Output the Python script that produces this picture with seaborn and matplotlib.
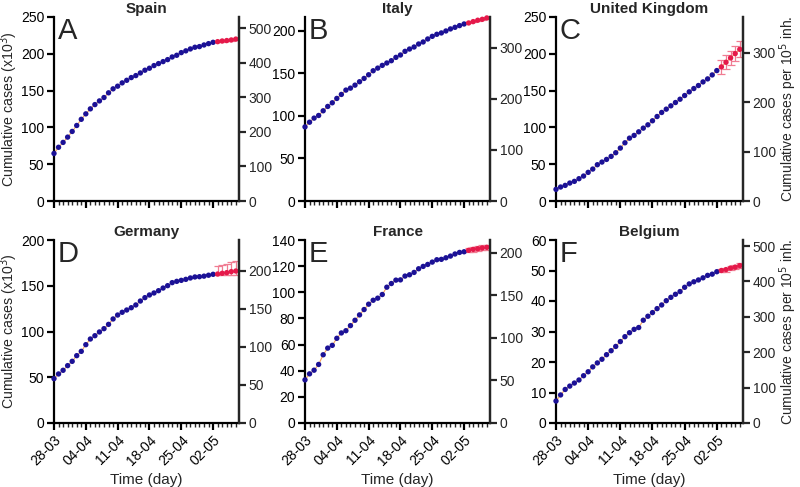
import numpy as np
import pandas as pd
import matplotlib
matplotlib.use("Agg")
import matplotlib.pyplot as plt
import seaborn as sns

sns.set_style("ticks")
plt.rcParams['font.family'] = ['Liberation Sans', 'DejaVu Sans']

# ---------------- data ----------------
tick_days = [0, 7, 14, 21, 28, 35]
tick_labels = ['28-03', '04-04', '11-04', '18-04', '25-04', '02-05']
obs_days = list(range(0, 36))
pred_days = [36, 37, 38, 39, 40]

countries = ['Spain', 'Italy', 'United Kingdom', 'Germany', 'France', 'Belgium']
letters = ['A', 'B', 'C', 'D', 'E', 'F']

spain_obs = [64.6, 73.0, 79.6, 86.8, 94.5, 102.6, 111.0, 118.4, 125.2, 131.0, 136.0, 140.6,
             147.0, 152.4, 156.0, 160.5, 164.0, 167.7, 170.4, 174.0, 177.7, 180.4, 184.0, 186.7,
             189.4, 192.1, 195.7, 198.0, 201.6, 204.0, 206.6, 208.9, 209.8, 212.0, 213.8, 215.6]
spain_pred = [216.5, 217.4, 218.0, 218.8, 220.0]
spain_err_lo = [1.0, 1.0, 1.2, 1.3, 1.5]
spain_err_hi = [1.0, 1.0, 1.2, 1.3, 1.5]

italy_obs = [87.0, 92.5, 97.3, 100.4, 105.9, 111.0, 115.3, 120.4, 125.1, 130.2, 132.5, 136.0,
             140.0, 143.9, 148.2, 152.9, 156.0, 159.2, 162.0, 164.7, 168.6, 171.4, 175.7, 178.4,
             180.8, 184.3, 186.7, 190.2, 193.3, 195.7, 197.3, 199.6, 202.0, 203.9, 205.9, 207.8]
italy_pred = [209.0, 210.6, 212.2, 213.3, 214.9]
italy_err_lo = [0.6, 0.7, 0.8, 0.9, 1.0]
italy_err_hi = [0.6, 0.7, 0.8, 0.9, 1.0]

uk_obs = [15.8, 19.0, 21.2, 24.4, 26.7, 30.3, 33.9, 38.9, 43.4, 49.3, 52.9, 56.5,
          60.6, 65.6, 71.9, 79.1, 85.4, 89.1, 94.0, 99.0, 103.5, 109.0, 114.8, 120.3,
          124.8, 129.3, 133.8, 138.3, 143.3, 148.3, 152.8, 156.9, 161.8, 165.9, 171.3, 177.2]
uk_pred = [182.2, 188.5, 194.4, 200.3, 206.1]
uk_err_lo = [9.0, 9.5, 10.0, 10.5, 11.0]
uk_err_hi = [9.0, 9.5, 10.0, 10.5, 11.0]

germany_obs = [48.5, 53.6, 57.6, 62.7, 67.4, 73.6, 78.3, 85.6, 91.8, 95.4, 99.5, 103.1,
               107.8, 113.7, 118.0, 121.0, 123.5, 126.0, 129.0, 133.3, 137.0, 139.9, 142.1, 144.6,
               147.5, 150.1, 153.4, 154.8, 155.9, 157.0, 158.5, 159.6, 159.9, 160.5, 161.5, 162.5]
germany_pred = [162.8, 163.6, 164.3, 165.4, 166.1]
germany_err_lo = [1.0, 2.0, 2.8, 3.8, 4.5]
germany_err_hi = [9.0, 9.5, 10.0, 10.5, 11.0]

france_obs = [33.0, 37.6, 40.4, 44.8, 52.2, 57.3, 59.4, 64.8, 68.9, 70.6, 74.5, 78.6,
              82.7, 86.8, 90.9, 93.9, 95.5, 98.3, 103.9, 106.7, 109.3, 109.5, 112.4, 113.4,
              115.2, 118.0, 119.8, 121.3, 123.1, 124.9, 125.2, 126.4, 127.7, 129.3, 130.5, 131.0]
france_pred = [132.1, 132.8, 133.3, 133.9, 134.4]
france_err_lo = [1.6, 1.7, 1.8, 1.9, 2.0]
france_err_hi = [1.6, 1.7, 1.8, 1.9, 2.0]

belgium_obs = [7.2, 9.2, 11.0, 12.1, 13.1, 14.1, 15.5, 16.8, 18.4, 19.7, 20.9, 22.4,
               23.7, 25.1, 26.7, 28.3, 29.6, 30.7, 31.3, 33.7, 35.0, 36.2, 37.5, 38.7,
               40.1, 41.2, 42.2, 43.1, 44.5, 45.6, 46.3, 46.9, 47.6, 48.4, 48.8, 49.6]
belgium_pred = [50.0, 50.3, 50.8, 51.1, 51.6]
belgium_err_lo = [0.6, 0.65, 0.7, 0.75, 0.8]
belgium_err_hi = [0.6, 0.65, 0.7, 0.75, 0.8]

obs_values = [spain_obs, italy_obs, uk_obs, germany_obs, france_obs, belgium_obs]
pred_values = [spain_pred, italy_pred, uk_pred, germany_pred, france_pred, belgium_pred]
err_lo = [spain_err_lo, italy_err_lo, uk_err_lo, germany_err_lo, france_err_lo, belgium_err_lo]
err_hi = [spain_err_hi, italy_err_hi, uk_err_hi, germany_err_hi, france_err_hi, belgium_err_hi]

left_max = [250, 216, 250, 200, 140, 60]
left_step = [50, 50, 50, 50, 20, 10]
per_1e5_factor = [2.132, 1.667, 1.49, 1.20, 1.536, 8.62]
right_ticks = [[0, 100, 200, 300, 400, 500], [0, 100, 200, 300], [0, 100, 200, 300],
               [0, 50, 100, 150, 200], [0, 50, 100, 150, 200], [0, 100, 200, 300, 400, 500]]

# ---------------- style ----------------
BLUE = '#1b1196'
RED = '#e5194a'
ERR = '#f07c92'
FIT = '#f5a05a'
LW = 1.6

W, H = 800, 487
fig = plt.figure(figsize=(8, 4.87), dpi=100)

col_px = [(54, 239), (305, 490), (556, 743)]
row_px = [(17, 201), (240, 423)]

for i, country in enumerate(countries):
    r, c = divmod(i, 3)
    x0, x1 = col_px[c]
    y0, y1 = row_px[r]
    ax = fig.add_axes([x0 / W, 1 - y1 / H, (x1 - x0) / W, (y1 - y0) / H])

    df_obs = pd.DataFrame({'day': obs_days, 'cases': obs_values[i]})
    df_pred = pd.DataFrame({'day': pred_days, 'cases': pred_values[i]})
    df_fit = pd.concat([df_obs, df_pred])

    sns.lineplot(data=df_fit, x='day', y='cases', ax=ax, color=FIT, lw=0.8, zorder=1)
    ax.errorbar(pred_days, pred_values[i], yerr=[err_lo[i], err_hi[i]], fmt='none',
                ecolor=ERR, elinewidth=0.9, capsize=3, capthick=0.9, zorder=2)
    sns.scatterplot(data=df_obs, x='day', y='cases', ax=ax, color=BLUE, s=15,
                    edgecolor='none', zorder=3, clip_on=False)
    sns.scatterplot(data=df_pred, x='day', y='cases', ax=ax, color=RED, s=15,
                    edgecolor='none', zorder=3, clip_on=False)

    ax.set_xlim(0, 40.7)
    ax.set_ylim(0, left_max[i])
    ax.set_yticks(np.arange(0, left_max[i] + 0.1, left_step[i]))
    ax.set_xticks(tick_days)
    ax.set_xticks(range(0, 41), minor=True)
    if r == 1:
        ax.set_xticklabels(tick_labels, rotation=45, ha='right', rotation_mode='anchor')
        ax.set_xlabel('Time (day)', fontsize=11)
    else:
        ax.set_xticklabels([])
        ax.set_xlabel('')
    if c == 0:
        ax.set_ylabel('Cumulative cases (x10$^3$)', fontsize=10.2)
        ax.yaxis.set_label_coords((20 - x0) / (x1 - x0), 0.5)
    else:
        ax.set_ylabel('')

    ax.tick_params(axis='both', which='major', direction='out', length=5, width=LW,
                   labelsize=10, pad=2, colors='black')
    ax.tick_params(axis='x', which='minor', direction='out', length=3, width=1.0)
    for s in ['left', 'bottom', 'right']:
        ax.spines[s].set_linewidth(LW)
        ax.spines[s].set_color('black')
    ax.spines['top'].set_visible(False)

    ax2 = ax.twinx()
    ax2.set_ylim(0, left_max[i] * per_1e5_factor[i])
    ax2.set_yticks(right_ticks[i])
    ax2.tick_params(axis='y', direction='out', length=5, width=LW, labelsize=10, pad=2)
    for s in ['top', 'left', 'bottom']:
        ax2.spines[s].set_visible(False)
    ax2.spines['right'].set_linewidth(LW)
    if c == 2:
        ax2.set_ylabel('Cumulative cases per 10$^5$ inh.', fontsize=10)
        ax2.yaxis.set_label_coords((777 - x0) / (x1 - x0), 0.5)

    ax.set_title(country, fontsize=11, fontweight='bold', pad=3)
    ax.text(0.02, 1.0, letters[i], transform=ax.transAxes, fontsize=21,
            va='top', ha='left')

fig.savefig('out.png', dpi=100)
